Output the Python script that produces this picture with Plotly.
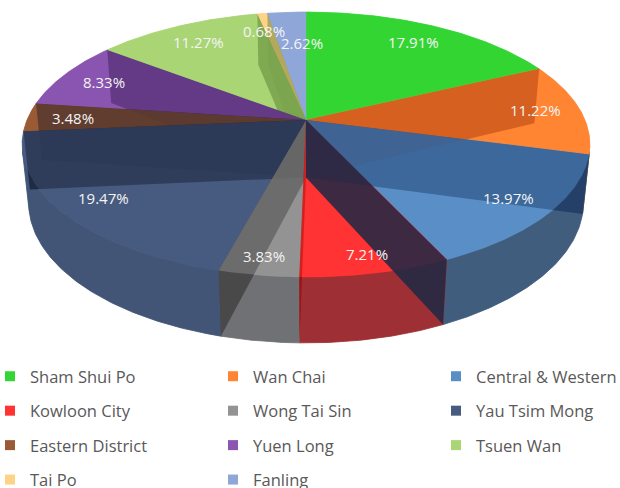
import numpy as np
import plotly.graph_objects as go

# ---------------- data ----------------
districts = ["Sham Shui Po", "Wan Chai", "Central & Western", "Kowloon City",
             "Wong Tai Sin", "Yau Tsim Mong", "Eastern District", "Yuen Long",
             "Tsuen Wan", "Tai Po", "Fanling"]
shares = [17.91, 11.22, 13.97, 7.21, 3.83, 19.47, 3.48, 8.33, 11.27, 0.68, 2.62]
colors = ["#33D633", "#FF8533", "#5A8FC6", "#FF3333", "#939393", "#475B80",
          "#9A5B34", "#8B55B0", "#A9D574", "#FFD387", "#8FA6D8"]

# ---------------- 3-D pie camera (style) ----------------
W, H = 620, 488
CX, CY = 306.0, 120.0
FOC, DIST = 1339.0, 4.80
TILT = np.radians(27.3)
DEPTH = 0.237
ct, st = np.cos(TILT), np.sin(TILT)


def proj(X, Y, Z):
    X = np.asarray(X, float); Y = np.asarray(Y, float); Z = np.asarray(Z, float)
    d = Y * ct - Z * st + DIST
    up = Y * st + Z * ct
    return CX + FOC * X / d, CY - FOC * up / d


def unproj_top(sx, sy):
    xp = (sx - CX) / FOC
    yp = (CY - sy) / FOC
    Y = yp * DIST / (st - yp * ct)
    X = xp * (Y * ct + DIST)
    return X, Y


def arc(a0, a1, z):
    n = max(2, int(np.ceil(abs(a1 - a0) / 0.5)) + 1)
    a = np.radians(np.linspace(a0, a1, n))
    return proj(np.sin(a), np.cos(a), np.full(n, z))


def hex2rgb(h):
    h = h.lstrip("#")
    return np.array([int(h[i:i + 2], 16) for i in (0, 2, 4)], float)


def rgba(c, a=1.0):
    c = np.clip(np.round(c), 0, 255).astype(int)
    return f"rgba({c[0]},{c[1]},{c[2]},{a})"


base = [hex2rgb(c) for c in colors]
dark = [b * (b / 255.0) * 0.6 for b in base]

total = float(sum(shares))
cum = np.concatenate([[0.0], np.cumsum(shares)]) / total * 360.0
starts, ends = cum[:-1], cum[1:]
n = len(shares)

fig = go.Figure()


def poly(xs, ys, fill, line=None):
    fig.add_trace(go.Scatter(
        x=np.append(xs, xs[0]), y=np.append(ys, ys[0]), mode="lines",
        fill="toself", fillcolor=fill,
        line=dict(width=0.8 if line else 0, color=line or "rgba(0,0,0,0)"),
        hoverinfo="skip", showlegend=False))


# visible range of outer wall
amin = np.degrees(np.arccos(-1.0 / (DIST * ct)))
amax = 360.0 - amin

outer = []
for i in range(n):
    v0, v1 = max(starts[i], amin), min(ends[i], amax)
    if v1 <= v0:
        continue
    mid = np.radians((v0 + v1) / 2)
    f = float(np.clip(0.62 - 0.35 * np.sin(mid), 0.5, 0.9))
    oc = f * base[i] + (1 - f) * np.array([40, 45, 55], float)
    tx, ty = arc(v0, v1, 0.0)
    bx, by = arc(v0, v1, -DEPTH)
    outer.append((np.concatenate([tx, bx[::-1]]), np.concatenate([ty, by[::-1]]), oc))

# 1. outer wall underlay
for xs, ys, oc in outer:
    poly(xs, ys, rgba(oc), rgba(oc))

# 2. top underlay
tops = []
for i in range(n):
    ax, ay = arc(starts[i], ends[i], 0.0)
    px, py = proj(0, 0, 0)
    xs = np.concatenate([[px], ax]); ys = np.concatenate([[py], ay])
    tops.append((xs, ys))
    poly(xs, ys, rgba(base[i]), rgba(base[i]))

# radial walls
walls, special = [], []
for k in range(n):
    b = cum[k]
    br = np.radians(b)
    sx, sy = proj([0, np.sin(br), np.sin(br), 0], [0, np.cos(br), np.cos(br), 0],
                  [0, 0, -DEPTH, -DEPTH])
    X, Y = unproj_top(sx.mean(), sy.mean())
    ang = np.degrees(np.arctan2(X, Y)) % 360
    owner = int(np.searchsorted(ends, ang) % n)
    dd = 0.5 * np.cos(br) * ct + DEPTH / 2 * st + DIST
    if np.sin(br) > 0 and np.cos(br) < -0.5:
        special.append((sx, sy, (k - 1) % n))
    else:
        walls.append((dd, sx, sy, owner))

walls.sort(key=lambda w: -w[0])
for dd, sx, sy, owner in walls:
    poly(sx, sy, rgba(dark[owner], 0.9))

# 4. outer overlay
for xs, ys, oc in outer:
    poly(xs, ys, rgba(oc, 0.3))

# 5. top overlay
for i in range(n):
    xs, ys = tops[i]
    poly(xs, ys, rgba(base[i], 0.55))

# 6. front exterior walls
for sx, sy, owner in special:
    sc = 0.6 * dark[owner] + 0.4 * np.array([40, 28, 32], float)
    poly(sx, sy, rgba(sc, 0.85))

# ---------------- data labels ----------------
mids = np.radians((starts + ends) / 2)
rad = 0.84 + 0.06 * np.clip(-np.cos(mids), 0, 1) ** 4 - 0.03 * np.clip(np.cos(mids), 0, 1)
lx, ly = proj(rad * np.sin(mids), rad * np.cos(mids), np.zeros(n))
shift = {9: (-6, 0), 10: (12, -13)}
for i in range(n):
    dx, dy = shift.get(i, (0, 0))
    fig.add_annotation(x=lx[i], y=ly[i], text=f"{shares[i]:.2f}%", showarrow=False,
                       xshift=dx, yshift=dy,
                       font=dict(family="Open Sans", size=15, color="#F4F4F4"))

# ---------------- legend: 3 columns ----------------
legend_names = ["legend", "legend2", "legend3"]
for i in range(n):
    fig.add_trace(go.Scatter(
        x=[None], y=[None], mode="markers", name=districts[i],
        marker=dict(symbol="square", size=10, color=colors[i]),
        legend=legend_names[i % 3], legendgroup=f"g{i}", showlegend=True))

col_x = [-10, 213, 436]
leg_common = dict(orientation="v", yanchor="top", y=1 - 359 / H, xanchor="left",
                  tracegroupgap=10, bgcolor="rgba(0,0,0,0)", borderwidth=0,
                  font=dict(family="Open Sans", size=16.5, color="#595959"),
                  itemclick=False, itemdoubleclick=False)
layout_legends = {name: dict(leg_common, x=col_x[c] / W) for c, name in enumerate(legend_names)}

fig.update_layout(
    width=W, height=H, margin=dict(l=0, r=0, t=0, b=0, autoexpand=False),
    paper_bgcolor="white", plot_bgcolor="white", hovermode=False,
    xaxis=dict(range=[0, W], visible=False, fixedrange=True),
    yaxis=dict(range=[H, 0], visible=False, fixedrange=True),
    **layout_legends)

fig.write_html("out.html", config={"displayModeBar": False, "staticPlot": True},
               post_script="document.body.style.margin='0';document.body.style.overflow='hidden';")
